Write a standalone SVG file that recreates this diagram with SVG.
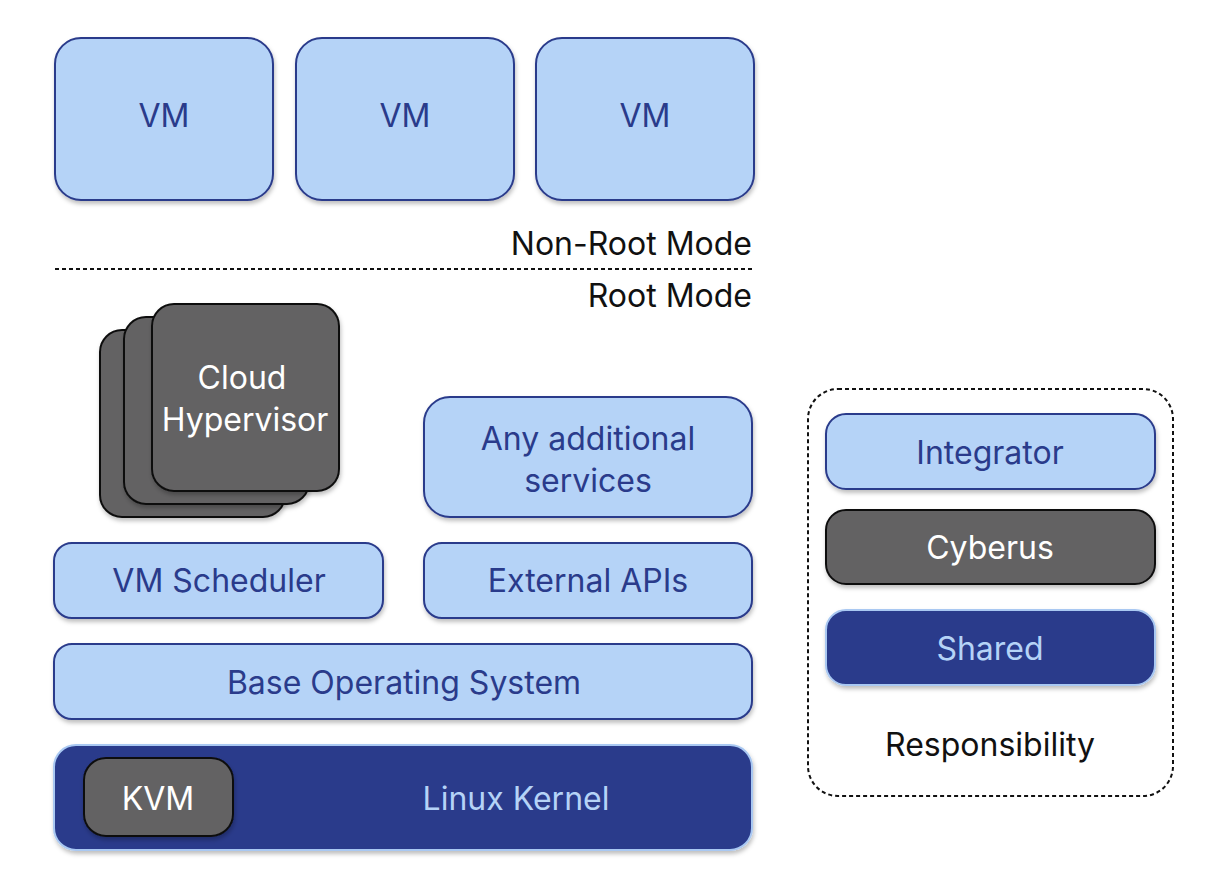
<svg xmlns="http://www.w3.org/2000/svg" width="1227" height="887" viewBox="0 0 1227 887">
<defs>
<filter id="sh" x="-10%" y="-10%" width="120%" height="130%">
<feDropShadow dx="1" dy="3" stdDeviation="2" flood-color="#000" flood-opacity="0.25"/>
</filter>
</defs>
<style>
text{font-family:Inter,"Noto Sans","Liberation Sans",sans-serif;font-size:32px;text-anchor:middle}
.lb{fill:#b5d3f7;stroke:#2a3b8b;stroke-width:2;filter:url(#sh)}
.lbt{fill:#2a3b8b}
.dk{fill:#646264;stroke:#111;stroke-width:2;filter:url(#sh)}
.dkt{fill:#fff}
.nv{fill:#2a3b8b;stroke:#a9c8f2;stroke-width:2;filter:url(#sh)}
.nvt{fill:#b5d3f7}
.blk{fill:#111}
</style>
<rect width="1227" height="887" fill="#fff"/>
<g id="vm1"><rect class="lb" x="55" y="38" width="218" height="162" rx="26"/><text class="lbt" x="164" y="127">VM</text></g>
<g id="vm2"><rect class="lb" x="296" y="38" width="218" height="162" rx="26"/><text class="lbt" x="405" y="127">VM</text></g>
<g id="vm3"><rect class="lb" x="536" y="38" width="218" height="162" rx="26"/><text class="lbt" x="645" y="127">VM</text></g>
<g id="modes">
<text class="blk" x="752" y="255" style="text-anchor:end">Non-Root Mode</text>
<line x1="55" y1="269" x2="753" y2="269" stroke="#111" stroke-width="2" stroke-dasharray="4 3"/>
<text class="blk" x="752" y="307" style="text-anchor:end">Root Mode</text>
</g>
<g id="cloud-hypervisor">
<rect class="dk" x="100" y="330" width="185" height="187" rx="22"/>
<rect class="dk" x="124" y="317" width="185" height="187" rx="22"/>
<rect class="dk" x="152" y="304" width="187" height="187" rx="22"/>
<text class="dkt" x="242" y="389">Cloud</text>
<text class="dkt" x="245" y="431">Hypervisor</text>
</g>
<g id="services"><rect class="lb" x="424" y="397" width="328" height="120" rx="26"/><text class="lbt" x="588" y="450">Any additional</text><text class="lbt" x="588" y="492">services</text></g>
<g id="scheduler"><rect class="lb" x="54" y="543" width="329" height="75" rx="18"/><text class="lbt" x="219" y="592">VM Scheduler</text></g>
<g id="apis"><rect class="lb" x="424" y="543" width="328" height="75" rx="18"/><text class="lbt" x="588" y="592">External APIs</text></g>
<g id="baseos"><rect class="lb" x="54" y="644" width="698" height="75" rx="18"/><text class="lbt" x="404" y="694">Base Operating System</text></g>
<g id="kernel"><rect class="nv" x="54" y="745" width="698" height="105" rx="22"/><text class="nvt" x="516" y="810">Linux Kernel</text></g>
<g id="kvm"><rect class="dk" x="84" y="758" width="149" height="78" rx="22"/><text class="dkt" x="158" y="810">KVM</text></g>
<g id="legend">
<rect x="808" y="389" width="365" height="407" rx="30" fill="none" stroke="#111" stroke-width="2" stroke-dasharray="4 3"/>
<g id="integrator"><rect class="lb" x="826" y="414" width="329" height="75" rx="20"/><text class="lbt" x="990" y="464">Integrator</text></g>
<g id="cyberus"><rect class="dk" x="826" y="510" width="329" height="74" rx="20"/><text class="dkt" x="990" y="559">Cyberus</text></g>
<g id="shared"><rect class="nv" x="826" y="610" width="329" height="75" rx="20"/><text class="nvt" x="990" y="660">Shared</text></g>
<text class="blk" x="990" y="756">Responsibility</text>
</g>
</svg>
